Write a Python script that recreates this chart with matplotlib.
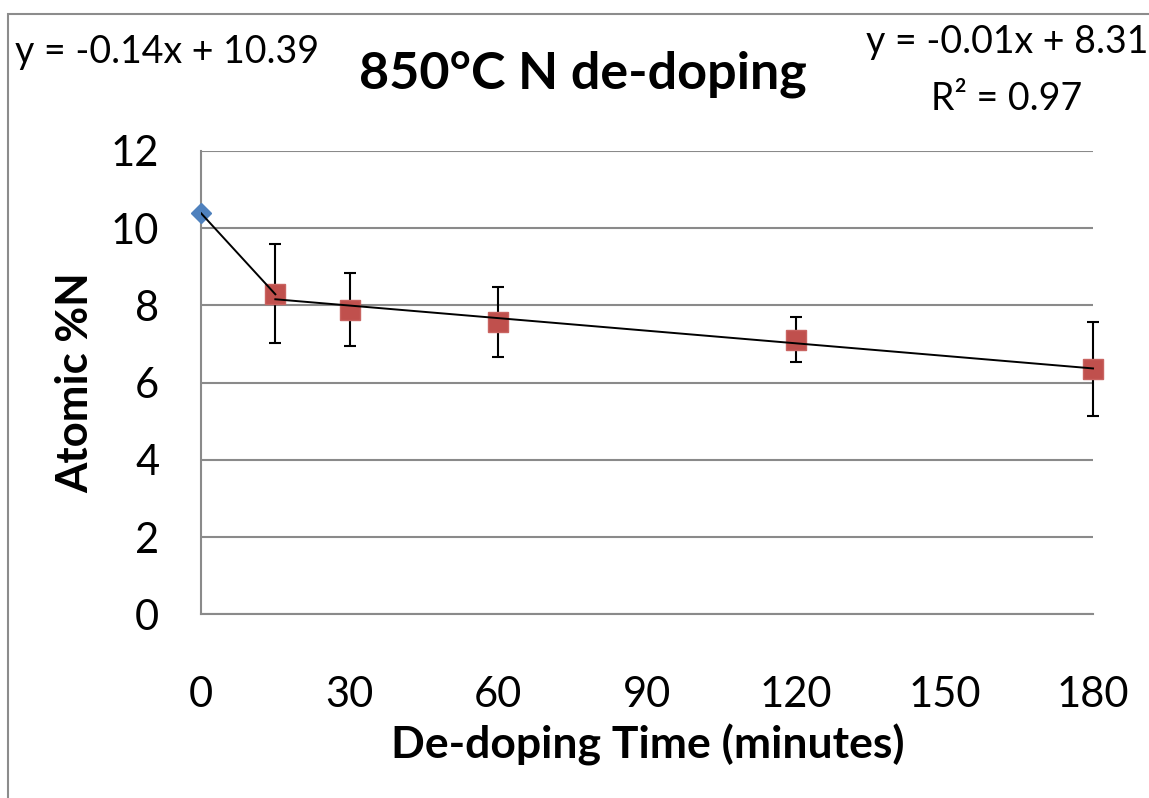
import numpy as np
import matplotlib
matplotlib.use('Agg')
import matplotlib.pyplot as plt
from matplotlib.patches import Rectangle

# annealing at 850 C: as-doped point and de-doped points (minutes, atomic %N)
t_start = [0]
n_start = [10.39]

t_dedope = [15, 30, 60, 120, 180]
n_dedope = [8.30, 7.89, 7.57, 7.11, 6.35]
n_err = [1.28, 0.94, 0.90, 0.58, 1.22]

# first segment trend (as written on the chart)
start_slope, start_icpt = -0.14, 10.39

x_ticks = [0, 30, 60, 90, 120, 150, 180]
y_ticks = [0, 2, 4, 6, 8, 10, 12]

W, H = 1149, 798
plt.rcParams['font.family'] = ['Lato', 'DejaVu Sans']

fig = plt.figure(figsize=(W / 100, H / 100), dpi=100)

def fx(px):
    return px / W

def fy(py):
    return 1 - py / H

# outer chart frame (runs off the right/bottom edge)
fig.patches.append(Rectangle((fx(8), fy(H + 20)), 1.2, fy(13.5) - fy(H + 20),
                             transform=fig.transFigure, fill=False,
                             edgecolor='#8c8c8c', linewidth=1.5))

ax = fig.add_axes([fx(201), fy(614.4), fx(1093) - fx(201), fy(151) - fy(614.4)])

grid_c = '#8a8a8a'
ax.set_xlim(0, 180)
ax.set_ylim(0, 12)
ax.set_xticks(x_ticks)
ax.set_yticks(y_ticks)
ax.yaxis.grid(True, color=grid_c, linewidth=1.5)
ax.set_axisbelow(True)
for s in ['top', 'right']:
    ax.spines[s].set_visible(False)
for s in ['left', 'bottom']:
    ax.spines[s].set_color(grid_c)
    ax.spines[s].set_linewidth(1.5)
ax.tick_params(axis='both', length=0, labelsize=30)
ax.tick_params(axis='x', pad=44)
ax.tick_params(axis='y', pad=30)

# error bars under the markers
ax.errorbar(t_dedope, n_dedope, yerr=n_err, fmt='none', ecolor='black',
            elinewidth=1.5, capsize=4.5, capthick=1.5, zorder=3, clip_on=False)
ax.plot(t_dedope, n_dedope, 's', color='#C0504D', markeredgecolor='#C96461',
        markersize=14.5, zorder=4, clip_on=False)
ax.plot(t_start, n_start, 'D', color='#4F81BD', markeredgecolor='#4F81BD',
        markersize=10.5, zorder=4, clip_on=False)

# trend lines
xs = np.array([0, t_dedope[0]])
ax.plot(xs, start_slope * xs + start_icpt, color='black', linewidth=1.4, zorder=5)
slope, icpt = np.polyfit(t_dedope, n_dedope, 1)
xs = np.array([t_dedope[0], t_dedope[-1]])
ax.plot(xs, slope * xs + icpt, color='black', linewidth=1.4, zorder=5, clip_on=False)

ax.set_ylabel('Atomic %N', fontsize=31.5, fontweight='bold')
ax.set_xlabel('De-doping Time (minutes)', fontsize=32, fontweight='bold')
ax.xaxis.set_label_coords(fx(648), fy(745), transform=fig.transFigure)
ax.yaxis.set_label_coords(fx(75), fy(383), transform=fig.transFigure)
ax.xaxis.label.set_va('center')
ax.yaxis.label.set_va('center')

fig.text(fx(583), fy(88), '850°C N de-doping', fontsize=37.5, fontweight='bold',
         ha='center', va='baseline')
fig.text(fx(15), fy(63), 'y = -0.14x + 10.39', fontsize=27, ha='left', va='baseline')
fig.text(fx(1148), fy(53), 'y = -0.01x + 8.31', fontsize=27, ha='right', va='baseline')
fig.text(fx(1007), fy(110), 'R² = 0.97', fontsize=27, ha='center', va='baseline')

fig.savefig('out.png', dpi=100, facecolor='white')
